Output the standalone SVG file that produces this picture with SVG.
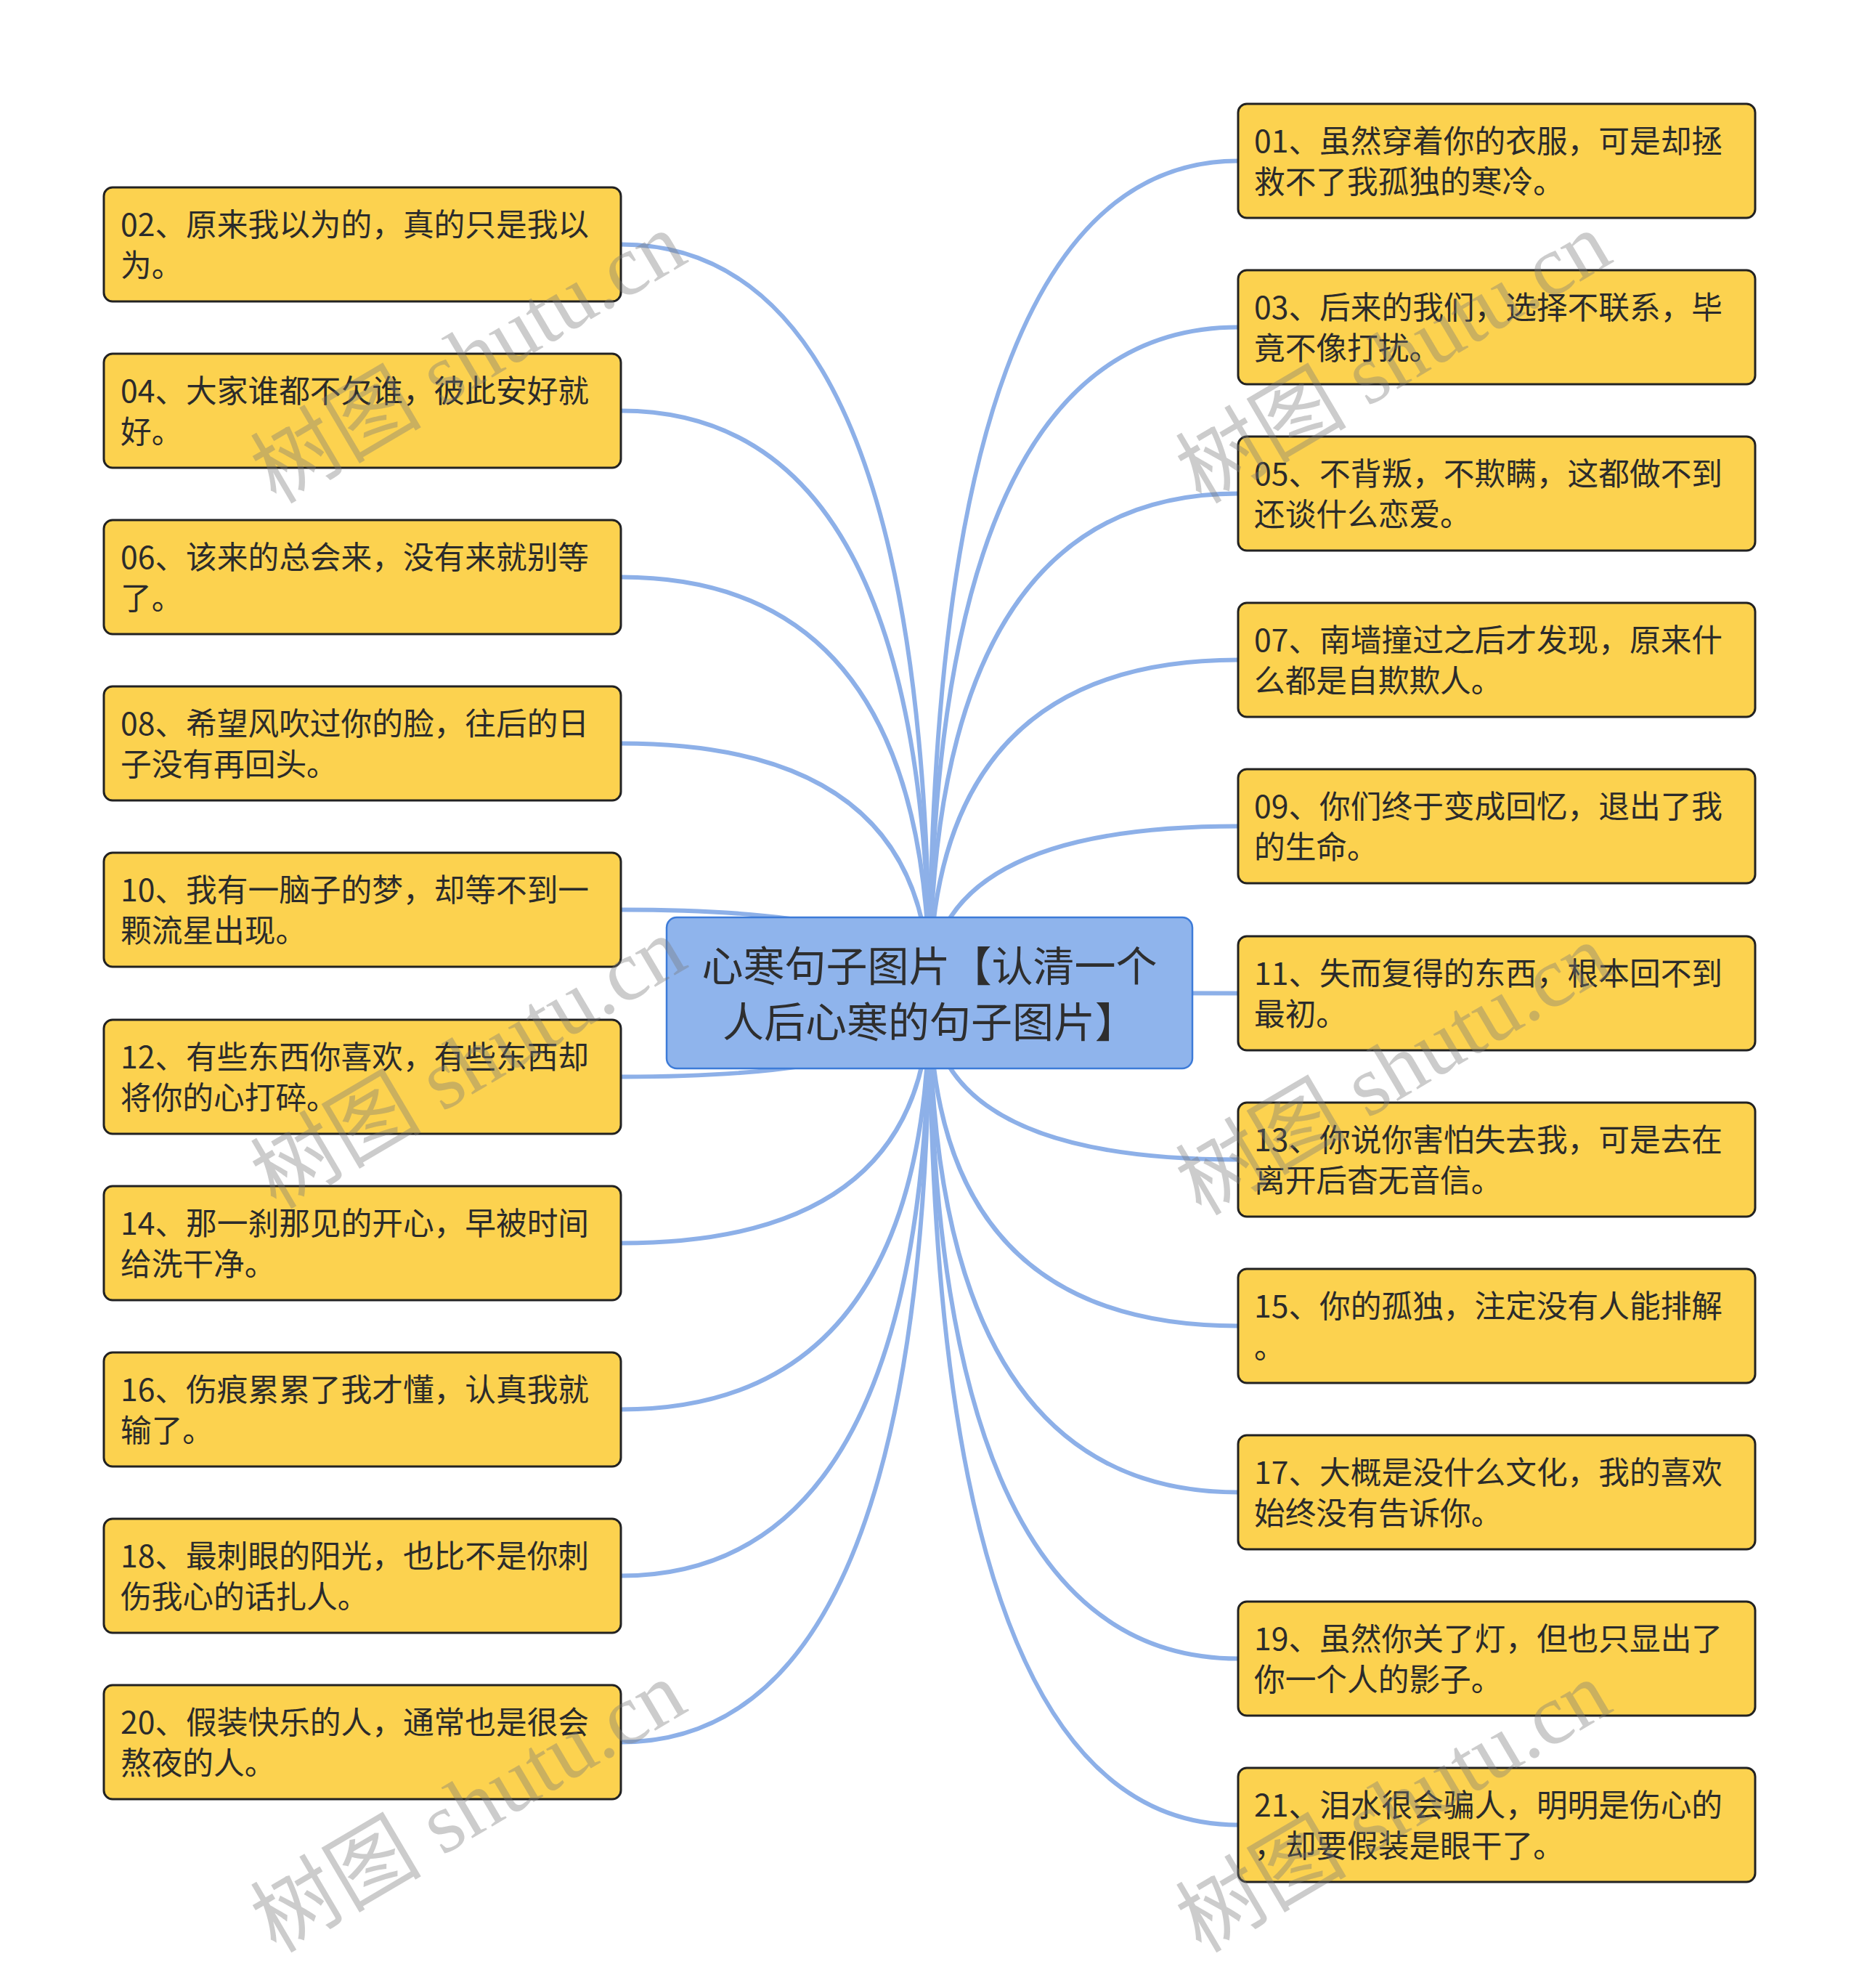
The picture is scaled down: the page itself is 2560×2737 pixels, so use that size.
<svg xmlns="http://www.w3.org/2000/svg" width="2560" height="2737" viewBox="0 0 2560 2737">
<style>
.bg{fill:#ffffff}
.edge{fill:none;stroke:#8db0e8;stroke-width:6;stroke-linecap:round}
.box{fill:#fcd24f;stroke:#222222;stroke-width:3}
.t{font-family:"Noto Sans CJK SC","Noto Sans",sans-serif;font-size:42.7px;fill:#2b2b2b}
.root{fill:#8fb4ec;stroke:#3d7bd8;stroke-width:2.5}
.rt{font-family:"Noto Sans CJK SC","Noto Sans",sans-serif;font-size:57px;fill:#2e2e2e;text-anchor:middle}
.wm{font-family:"Liberation Serif","Noto Sans CJK SC",serif;font-size:118px;fill:#7a7a7a;fill-opacity:0.38}
</style>
<rect class="bg" x="0" y="0" width="2560" height="2737"/>
<g id="connectors">
<path class="edge" d="M1280,1367 Q1280,221.5 1705,221.5"/>
<path class="edge" d="M1280,1367 Q1280,450.5 1705,450.5"/>
<path class="edge" d="M1280,1367 Q1280,679.5 1705,679.5"/>
<path class="edge" d="M1280,1367 Q1280,908.5 1705,908.5"/>
<path class="edge" d="M1280,1367 Q1280,1137.5 1705,1137.5"/>
<path class="edge" d="M1280,1367 L1705,1367.5"/>
<path class="edge" d="M1280,1367 Q1280,1596.5 1705,1596.5"/>
<path class="edge" d="M1280,1367 Q1280,1825.5 1705,1825.5"/>
<path class="edge" d="M1280,1367 Q1280,2054.5 1705,2054.5"/>
<path class="edge" d="M1280,1367 Q1280,2283.5 1705,2283.5"/>
<path class="edge" d="M1280,1367 Q1280,2512.5 1705,2512.5"/>
<path class="edge" d="M1280,1367 Q1280,336.5 855,336.5"/>
<path class="edge" d="M1280,1367 Q1280,565.5 855,565.5"/>
<path class="edge" d="M1280,1367 Q1280,794.5 855,794.5"/>
<path class="edge" d="M1280,1367 Q1280,1023.5 855,1023.5"/>
<path class="edge" d="M1280,1367 Q1280,1252.5 855,1252.5"/>
<path class="edge" d="M1280,1367 Q1280,1482.5 855,1482.5"/>
<path class="edge" d="M1280,1367 Q1280,1711.5 855,1711.5"/>
<path class="edge" d="M1280,1367 Q1280,1940.5 855,1940.5"/>
<path class="edge" d="M1280,1367 Q1280,2169.5 855,2169.5"/>
<path class="edge" d="M1280,1367 Q1280,2398.5 855,2398.5"/>
</g>
<g id="root">
<rect class="root" x="918" y="1263" width="724" height="208" rx="14"/>
<text class="rt" x="1280" y="1351">心寒句子图片【认清一个</text>
<text class="rt" x="1280" y="1428">人后心寒的句子图片】</text>
</g>
<g id="n01"><rect class="box" x="1705" y="143" width="712" height="157" rx="12"/><text class="t" x="1727" y="210">01、虽然穿着你的衣服，可是却拯</text><text class="t" x="1727" y="266">救不了我孤独的寒冷。</text></g>
<g id="n03"><rect class="box" x="1705" y="372" width="712" height="157" rx="12"/><text class="t" x="1727" y="439">03、后来的我们，选择不联系，毕</text><text class="t" x="1727" y="495">竟不像打扰。</text></g>
<g id="n05"><rect class="box" x="1705" y="601" width="712" height="157" rx="12"/><text class="t" x="1727" y="668">05、不背叛，不欺瞒，这都做不到</text><text class="t" x="1727" y="724">还谈什么恋爱。</text></g>
<g id="n07"><rect class="box" x="1705" y="830" width="712" height="157" rx="12"/><text class="t" x="1727" y="897">07、南墙撞过之后才发现，原来什</text><text class="t" x="1727" y="953">么都是自欺欺人。</text></g>
<g id="n09"><rect class="box" x="1705" y="1059" width="712" height="157" rx="12"/><text class="t" x="1727" y="1126">09、你们终于变成回忆，退出了我</text><text class="t" x="1727" y="1182">的生命。</text></g>
<g id="n11"><rect class="box" x="1705" y="1289" width="712" height="157" rx="12"/><text class="t" x="1727" y="1356">11、失而复得的东西，根本回不到</text><text class="t" x="1727" y="1412">最初。</text></g>
<g id="n13"><rect class="box" x="1705" y="1518" width="712" height="157" rx="12"/><text class="t" x="1727" y="1585">13、你说你害怕失去我，可是去在</text><text class="t" x="1727" y="1641">离开后杳无音信。</text></g>
<g id="n15"><rect class="box" x="1705" y="1747" width="712" height="157" rx="12"/><text class="t" x="1727" y="1814">15、你的孤独，注定没有人能排解</text><text class="t" x="1727" y="1870">。</text></g>
<g id="n17"><rect class="box" x="1705" y="1976" width="712" height="157" rx="12"/><text class="t" x="1727" y="2043">17、大概是没什么文化，我的喜欢</text><text class="t" x="1727" y="2099">始终没有告诉你。</text></g>
<g id="n19"><rect class="box" x="1705" y="2205" width="712" height="157" rx="12"/><text class="t" x="1727" y="2272">19、虽然你关了灯，但也只显出了</text><text class="t" x="1727" y="2328">你一个人的影子。</text></g>
<g id="n21"><rect class="box" x="1705" y="2434" width="712" height="157" rx="12"/><text class="t" x="1727" y="2501">21、泪水很会骗人，明明是伤心的</text><text class="t" x="1727" y="2557">，却要假装是眼干了。</text></g>
<g id="n02"><rect class="box" x="143" y="258" width="712" height="157" rx="12"/><text class="t" x="166" y="325">02、原来我以为的，真的只是我以</text><text class="t" x="166" y="381">为。</text></g>
<g id="n04"><rect class="box" x="143" y="487" width="712" height="157" rx="12"/><text class="t" x="166" y="554">04、大家谁都不欠谁，彼此安好就</text><text class="t" x="166" y="610">好。</text></g>
<g id="n06"><rect class="box" x="143" y="716" width="712" height="157" rx="12"/><text class="t" x="166" y="783">06、该来的总会来，没有来就别等</text><text class="t" x="166" y="839">了。</text></g>
<g id="n08"><rect class="box" x="143" y="945" width="712" height="157" rx="12"/><text class="t" x="166" y="1012">08、希望风吹过你的脸，往后的日</text><text class="t" x="166" y="1068">子没有再回头。</text></g>
<g id="n10"><rect class="box" x="143" y="1174" width="712" height="157" rx="12"/><text class="t" x="166" y="1241">10、我有一脑子的梦，却等不到一</text><text class="t" x="166" y="1297">颗流星出现。</text></g>
<g id="n12"><rect class="box" x="143" y="1404" width="712" height="157" rx="12"/><text class="t" x="166" y="1471">12、有些东西你喜欢，有些东西却</text><text class="t" x="166" y="1527">将你的心打碎。</text></g>
<g id="n14"><rect class="box" x="143" y="1633" width="712" height="157" rx="12"/><text class="t" x="166" y="1700">14、那一刹那见的开心，早被时间</text><text class="t" x="166" y="1756">给洗干净。</text></g>
<g id="n16"><rect class="box" x="143" y="1862" width="712" height="157" rx="12"/><text class="t" x="166" y="1929">16、伤痕累累了我才懂，认真我就</text><text class="t" x="166" y="1985">输了。</text></g>
<g id="n18"><rect class="box" x="143" y="2091" width="712" height="157" rx="12"/><text class="t" x="166" y="2158">18、最刺眼的阳光，也比不是你刺</text><text class="t" x="166" y="2214">伤我心的话扎人。</text></g>
<g id="n20"><rect class="box" x="143" y="2320" width="712" height="157" rx="12"/><text class="t" x="166" y="2387">20、假装快乐的人，通常也是很会</text><text class="t" x="166" y="2443">熬夜的人。</text></g>
<g id="watermarks">
<text class="wm" transform="translate(380,695) rotate(-30.5)">树图 shutu.cn</text>
<text class="wm" transform="translate(1654,695) rotate(-30.5)">树图 shutu.cn</text>
<text class="wm" transform="translate(380,1666) rotate(-30.5)">树图 shutu.cn</text>
<text class="wm" transform="translate(1654,1675) rotate(-30.5)">树图 shutu.cn</text>
<text class="wm" transform="translate(380,2690) rotate(-30.5)">树图 shutu.cn</text>
<text class="wm" transform="translate(1654,2690) rotate(-30.5)">树图 shutu.cn</text>
</g>
</svg>
